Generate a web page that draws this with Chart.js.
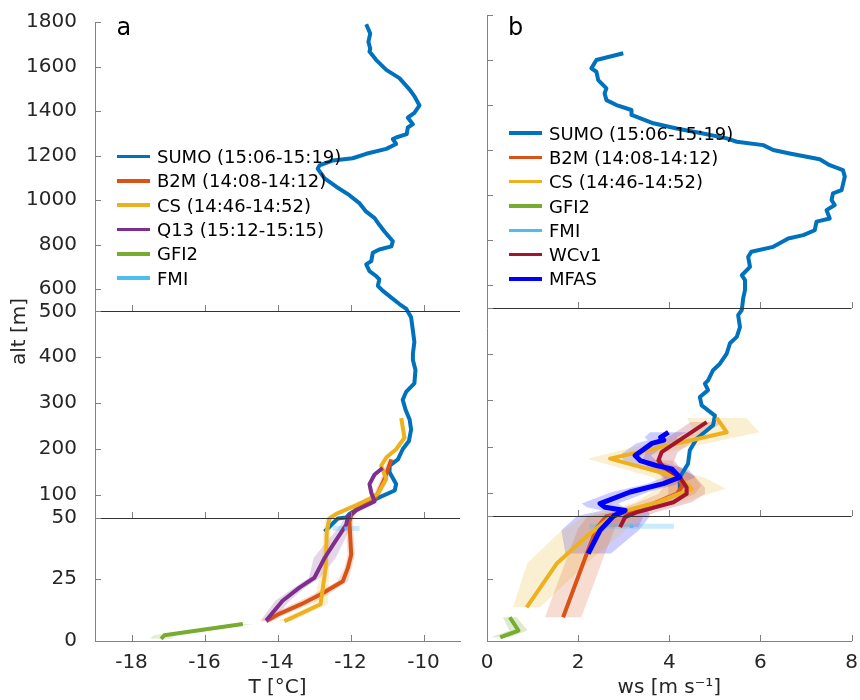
<!DOCTYPE html>
<html>
<head>
<meta charset="utf-8">
<script src="https://cdn.jsdelivr.net/npm/chart.js@4.4.1/dist/chart.umd.min.js"></script>
<style>
  body { margin: 0; background: #fff; font-family: "DejaVu Sans", sans-serif; }
  #wrap { position: relative; width: 860px; height: 700px; overflow: hidden; }
  canvas { position: absolute; top: 0; }
  #left { left: 0; }
  #right { left: 470px; }
  .panel-label { position: absolute; font-size: 24px; line-height: 24px; color: #000; }
  .legend { position: absolute; font-size: 18px; color: #000; }
  .legend .row { height: 24.3px; display: flex; align-items: center; white-space: nowrap; }
  .legend .sw { display: inline-block; width: 33px; height: 3.5px; margin-right: 7px; }
</style>
</head>
<body>
<div id="wrap">
  <canvas id="left" width="470" height="700"></canvas>
  <canvas id="right" width="390" height="700"></canvas>
  <div class="panel-label" style="left:116.5px; top:14.7px">a</div>
  <div class="panel-label" style="left:508px; top:14.7px">b</div>
  <div class="legend" id="legendLeft" style="left:117px; top:144.5px"></div>
  <div class="legend" id="legendRight" style="left:509px; top:121px"></div>
</div>
<script>
// altitude axis: three stacked pieces (0-50, 50-500, 500-1800 m)
const altBreaks = [0, 50, 500, 1800];
const altTicks = [0, 25, 50, 100, 200, 300, 400, 500, 600, 800, 1000, 1200, 1400, 1600, 1800];
const tTicks = [-18, -16, -14, -12, -10];
const wsTicks = [0, 2, 4, 6, 8];

// panel a: temperature profiles
const sumoTAlt = [1790, 1748, 1711, 1681, 1667, 1630, 1585, 1548, 1496, 1467, 1425, 1392, 1370, 1341, 1326,
  1296, 1281, 1274, 1252, 1230, 1208, 1188, 1178, 1156, 1141, 1097, 1060, 1022, 985, 948, 919, 889, 859, 815,
  792, 778, 763, 726, 711, 681, 659, 644, 615, 593, 563, 533, 511, 487, 458, 433, 408, 394, 372, 343, 325, 307,
  285, 264, 242, 217, 199, 177, 163, 149, 123, 109, 94, 80, 58, 50, 49.6, 44.3];
const sumoT = [-11.57, -11.46, -11.51, -11.46, -11.48, -11.30, -11.02, -10.66, -10.38, -10.25, -10.11, -10.25,
  -10.43, -10.29, -10.43, -10.46, -10.75, -10.84, -10.75, -11.02, -11.57, -11.94, -12.48, -12.85, -12.90, -12.71,
  -12.39, -12.03, -11.75, -11.57, -11.34, -11.21, -11.07, -10.84, -10.88, -11.21, -11.39, -11.43, -11.57, -11.48,
  -11.30, -11.21, -11.25, -11.12, -10.89, -10.66, -10.47, -10.34, -10.29, -10.25, -10.29, -10.29, -10.22, -10.25,
  -10.47, -10.57, -10.49, -10.38, -10.34, -10.40, -10.57, -10.70, -10.93, -10.93, -10.75, -10.79, -11.21, -11.57,
  -12.03, -12.12, -12.35, -12.71];

const b2mTAlt = [177, 134, 94, 77, 55, 48.3, 34.9, 29.6, 24.2, 19, 14.9, 11, 8];
const b2mT = [-10.88, -11.07, -11.30, -11.75, -11.98, -12.03, -11.98, -12.07, -12.21, -12.80, -13.35, -13.95, -14.31];
const b2mTErr = [0.1, 0.1, 0.1, 0.1, 0.1, 0.1, 0.1, 0.1, 0.15, 0.2, 0.25, 0.2, 0.15];

const csTAlt = [267, 224, 199, 181, 163, 134, 102, 91, 77, 58, 49.6, 44.3, 29.6, 14.9, 8];
const csT = [-10.61, -10.52, -10.75, -11.02, -11.16, -11.02, -11.25, -11.48, -11.84, -12.39, -12.58, -12.65,
  -12.68, -12.82, -13.81];
const csTErr = [0.05, 0.05, 0.05, 0.05, 0.05, 0.05, 0.05, 0.05, 0.05, 0.05, 0.1, 0.1, 0.1, 0.2, 0.2];

const q13TAlt = [158, 144, 123, 104, 85, 66, 51, 47, 38.9, 33.6, 25.6, 21.6, 16.3, 8.3];
const q13T = [-11.12, -11.34, -11.48, -11.43, -11.34, -11.84, -12.07, -12.12, -12.48, -12.71, -12.99, -13.40,
  -13.86, -14.31];
const q13TErr = [0.05, 0.05, 0.05, 0.05, 0.05, 0.05, 0.1, 0.15, 0.25, 0.3, 0.15, 0.15, 0.2, 0.15];

const gfi2TAlt = [0.9, 2.3, 6.9];
const gfi2T = [-17.19, -17.10, -14.95];
const gfi2TErr = [0.3, 0.3, 0.3];

const fmiTAlt = [45.6];
const fmiT = [-12.12];
const fmiTErr = [0.37];

// panel b: wind speed profiles
const sumoWsAlt = [1630, 1600, 1563, 1548, 1511, 1474, 1452, 1422, 1400, 1378, 1356, 1319, 1296, 1274, 1252,
  1237, 1222, 1200, 1185, 1159, 1133, 1111, 1082, 1022, 1008, 978, 956, 933, 896, 882, 844, 822, 807, 770, 748,
  726, 681, 644, 622, 578, 541, 495, 484, 458, 437, 423, 401, 379, 365, 343, 336, 322, 307, 289, 267, 246, 217,
  192, 163, 134, 105];
const sumoWs = [2.99, 2.40, 2.29, 2.40, 2.44, 2.62, 2.58, 2.62, 2.84, 3.17, 3.17, 3.65, 4.16, 4.74, 5.26, 5.48,
  6.06, 6.28, 6.64, 7.30, 7.52, 7.81, 7.85, 7.78, 7.59, 7.56, 7.63, 7.45, 7.52, 7.23, 7.19, 6.94, 6.61, 6.28,
  5.80, 5.73, 5.77, 5.59, 5.66, 5.66, 5.62, 5.59, 5.51, 5.55, 5.48, 5.33, 5.26, 5.11, 4.96, 4.85, 4.78, 4.85,
  4.67, 4.71, 5.00, 4.96, 4.60, 4.45, 4.41, 4.23, 4.23];

const b2mWsAlt = [170, 163, 138, 116, 98, 77, 58, 50, 45, 35, 9.5];
const b2mWs = [3.78, 3.79, 4.16, 4.30, 4.16, 3.65, 3.06, 2.62, 2.40, 2.19, 1.67];
const b2mWsErr = [0.3, 0.3, 0.35, 0.4, 0.4, 0.4, 0.4, 0.4, 0.4, 0.4, 0.4];

const csWsAlt = [262, 231, 174, 133, 109, 80, 62, 50, 43, 31, 13.5];
const csWs = [5.04, 5.26, 2.70, 4.23, 4.49, 3.75, 3.05, 2.75, 2.26, 1.53, 0.87];
const csWsErr = [0.65, 0.72, 0.5, 0.55, 0.75, 0.5, 0.45, 0.6, 0.7, 0.65, 0.3];

const gfi2WsAlt = [1.5, 4.2, 9.5];
const gfi2Ws = [0.29, 0.69, 0.50];
const gfi2WsErr = [0.2, 0.2, 0.15];

const fmiWsAlt = [45.9];
const fmiWs = [3.17];
const fmiWsErr = [0.93];

const wcWsAlt = [253, 188, 170, 156, 134, 112, 98, 80, 58, 49.6, 45.6];
const wcWs = [4.82, 3.83, 3.76, 3.87, 4.23, 4.38, 4.38, 4.09, 3.28, 3.03, 2.92];
const wcWsErr = [0.35, 0.35, 0.35, 0.35, 0.35, 0.4, 0.4, 0.4, 0.4, 0.4, 0.4];

const mfasWsAlt = [231, 220, 214, 207, 181, 170, 159, 152, 134, 120, 102, 77, 69, 62, 50.5, 44.3, 35];
const mfasWs = [3.98, 3.81, 3.88, 3.62, 3.25, 3.36, 3.72, 4.05, 4.23, 3.87, 3.14, 2.48, 2.59, 3.03, 2.78, 2.48, 2.22];
const mfasWsErr = [0.4, 0.35, 0.35, 0.35, 0.35, 0.35, 0.35, 0.35, 0.35, 0.35, 0.4, 0.4, 0.4, 0.5, 0.8, 0.85, 0.5];

const colors = {
  SUMO: '#0072BD', B2M: '#D95319', CS: '#EDB120', Q13: '#7E2F8E',
  GFI2: '#77AC30', FMI: '#4DBEEE', WCv1: '#A2142F', MFAS: '#0000FF'
};
const textColor = '#262626';
const axisColor = '#808080';

// share of the axis height given to each altitude piece
const altShare = [0.1995, 0.333, 0.4675];

function altToDecimal(v) {
  let base = 0;
  for (let i = 0; i < altShare.length; i++) {
    const lo = altBreaks[i], hi = altBreaks[i + 1];
    if (v <= hi || i === altShare.length - 1) return base + (v - lo) / (hi - lo) * altShare[i];
    base += altShare[i];
  }
}
function decimalToAlt(d) {
  let base = 0;
  for (let i = 0; i < altShare.length; i++) {
    if (d <= base + altShare[i] || i === altShare.length - 1) {
      return altBreaks[i] + (d - base) / altShare[i] * (altBreaks[i + 1] - altBreaks[i]);
    }
    base += altShare[i];
  }
}

class BrokenAltScale extends Chart.LinearScale {
  getPixelForValue(value) { return this.getPixelForDecimal(altToDecimal(value)); }
  getValueForPixel(pixel) { return decimalToAlt(this.getDecimalForPixel(pixel)); }
}
BrokenAltScale.id = 'brokenAlt';
BrokenAltScale.defaults = Chart.LinearScale.defaults;
Chart.register(BrokenAltScale);

Chart.defaults.font.family = '"DejaVu Sans", sans-serif';

function rgba(hex, a) {
  const n = parseInt(hex.slice(1), 16);
  return `rgba(${n >> 16}, ${(n >> 8) & 255}, ${n & 255}, ${a})`;
}

function profile(name, xs, alts, width, order) {
  return {
    label: name, data: alts.map((a, i) => ({ x: xs[i], y: a })),
    borderColor: colors[name], borderWidth: width, pointRadius: 0,
    borderJoinStyle: 'round', fill: false, order
  };
}

// closed polygon: low edge going up, high edge coming back
function band(name, xs, errs, alts, alpha) {
  const lo = alts.map((a, i) => ({ x: xs[i] - errs[i], y: a }));
  const hi = alts.map((a, i) => ({ x: xs[i] + errs[i], y: a })).reverse();
  return {
    label: '', data: lo.concat(hi), borderWidth: 0, borderColor: 'rgba(0,0,0,0)',
    backgroundColor: rgba(colors[name], alpha), pointRadius: 0, fill: 'shape', order: 100
  };
}

// single point with a horizontal error bar
function pointBar(name, xs, errs, alts) {
  return [
    { label: '', data: [{ x: xs[0] - errs[0], y: alts[0] }, { x: xs[0] + errs[0], y: alts[0] }],
      borderColor: rgba(colors[name], 0.3), borderWidth: 5, pointRadius: 0, fill: false, order: 90 },
    { label: name, data: [{ x: xs[0], y: alts[0] }], showLine: false, pointStyle: 'rect', pointRadius: 2.5,
      pointBackgroundColor: colors[name], pointBorderWidth: 0, order: 2 }
  ];
}

const matlabAxes = {
  id: 'matlabAxes',
  afterDraw(chart) {
    const { ctx, chartArea: a, scales: { x, y } } = chart;
    ctx.save();
    ctx.lineWidth = 1;
    ctx.beginPath();
    altBreaks.slice(1, -1).forEach(v => {
      const py = Math.round(y.getPixelForValue(v)) + 0.5;
      ctx.moveTo(a.left, py); ctx.lineTo(a.right, py);
    });
    ctx.strokeStyle = '#333';
    ctx.stroke();
    ctx.beginPath();
    altBreaks.slice(0, -1).forEach(v => {
      const py = Math.round(y.getPixelForValue(v));
      x.ticks.forEach(t => {
        const px = Math.round(x.getPixelForValue(t.value)) + 0.5;
        ctx.moveTo(px, py); ctx.lineTo(px, py - 6);
      });
    });
    y.ticks.forEach(t => {
      const py = Math.round(y.getPixelForValue(t.value)) + 0.5;
      ctx.moveTo(a.left, py); ctx.lineTo(a.left + 6, py);
    });
    ctx.strokeStyle = axisColor;
    ctx.stroke();
    ctx.restore();
  }
};

function makeChart(id, datasets, xOpts, showAltLabels, pad) {
  return new Chart(document.getElementById(id), {
    type: 'line',
    data: { datasets },
    plugins: [matlabAxes],
    options: {
      responsive: false, animation: false, events: [],
      layout: { padding: pad },
      plugins: { legend: { display: false }, tooltip: { enabled: false } },
      scales: {
        x: {
          type: 'linear', min: xOpts.min, max: xOpts.max,
          afterBuildTicks: s => { s.ticks = xOpts.ticks.map(v => ({ value: v })); },
          afterFit: s => { s.height = 59; },
          grid: { display: false },
          border: { display: true, color: axisColor, width: 1 },
          ticks: { color: textColor, font: { size: 20 }, padding: 2, maxRotation: 0, callback: v => String(v) },
          title: { display: true, text: xOpts.title, color: textColor, font: { size: 20 }, padding: { top: 0, bottom: 0 } }
        },
        y: {
          type: 'brokenAlt', min: 0, max: 1800,
          afterBuildTicks: s => { s.ticks = altTicks.map(v => ({ value: v })); },
          afterFit: s => { s.width = showAltLabels ? 95 : 17; },
          grid: { display: false },
          border: { display: true, color: axisColor, width: 1 },
          ticks: { display: showAltLabels, autoSkip: false, color: textColor, font: { size: 20 }, padding: 10,
            callback: v => String(v) },
          title: { display: showAltLabels, text: 'alt [m]', color: textColor, font: { size: 20 }, padding: { top: 8 } }
        }
      }
    }
  });
}

const leftSets = [
  band('B2M', b2mT, b2mTErr, b2mTAlt, 0.2),
  band('CS', csT, csTErr, csTAlt, 0.2),
  band('Q13', q13T, q13TErr, q13TAlt, 0.2),
  band('GFI2', gfi2T, gfi2TErr, gfi2TAlt, 0.2),
  profile('SUMO', sumoT, sumoTAlt, 4, 10),
  profile('B2M', b2mT, b2mTAlt, 4, 9),
  profile('CS', csT, csTAlt, 4, 8),
  profile('Q13', q13T, q13TAlt, 4, 7),
  profile('GFI2', gfi2T, gfi2TAlt, 4, 6),
  ...pointBar('FMI', fmiT, fmiTErr, fmiTAlt)
];

const rightSets = [
  band('B2M', b2mWs, b2mWsErr, b2mWsAlt, 0.2),
  band('CS', csWs, csWsErr, csWsAlt, 0.2),
  band('GFI2', gfi2Ws, gfi2WsErr, gfi2WsAlt, 0.25),
  band('WCv1', wcWs, wcWsErr, wcWsAlt, 0.2),
  band('MFAS', mfasWs, mfasWsErr, mfasWsAlt, 0.2),
  profile('SUMO', sumoWs, sumoWsAlt, 4, 10),
  profile('B2M', b2mWs, b2mWsAlt, 4, 9),
  profile('CS', csWs, csWsAlt, 4, 8),
  profile('GFI2', gfi2Ws, gfi2WsAlt, 4, 7),
  ...pointBar('FMI', fmiWs, fmiWsErr, fmiWsAlt),
  profile('WCv1', wcWs, wcWsAlt, 4, 5),
  profile('MFAS', mfasWs, mfasWsAlt, 5, 4)
];

makeChart('left', leftSets, { min: -19, max: -9, ticks: tTicks, title: 'T [°C]' }, true,
  { top: 15, right: 10, left: 0, bottom: 0 });
makeChart('right', rightSets, { min: 0, max: 8, ticks: wsTicks, title: 'ws [m s⁻¹]' }, false,
  { top: 15, right: 8, left: 0, bottom: 0 });

// legends
const legendLeft = [
  ['SUMO', 'SUMO (15:06-15:19)'], ['B2M', 'B2M (14:08-14:12)'], ['CS', 'CS (14:46-14:52)'],
  ['Q13', 'Q13 (15:12-15:15)'], ['GFI2', 'GFI2'], ['FMI', 'FMI']
];
const legendRight = [
  ['SUMO', 'SUMO (15:06-15:19)'], ['B2M', 'B2M (14:08-14:12)'], ['CS', 'CS (14:46-14:52)'],
  ['GFI2', 'GFI2'], ['FMI', 'FMI'], ['WCv1', 'WCv1'], ['MFAS', 'MFAS']
];
function fillLegend(id, entries) {
  const box = document.getElementById(id);
  entries.forEach(([key, text]) => {
    const row = document.createElement('div');
    row.className = 'row';
    row.innerHTML = `<span class="sw" style="background:${colors[key]}"></span><span>${text}</span>`;
    box.appendChild(row);
  });
}
fillLegend('legendLeft', legendLeft);
fillLegend('legendRight', legendRight);
</script>
</body>
</html>
